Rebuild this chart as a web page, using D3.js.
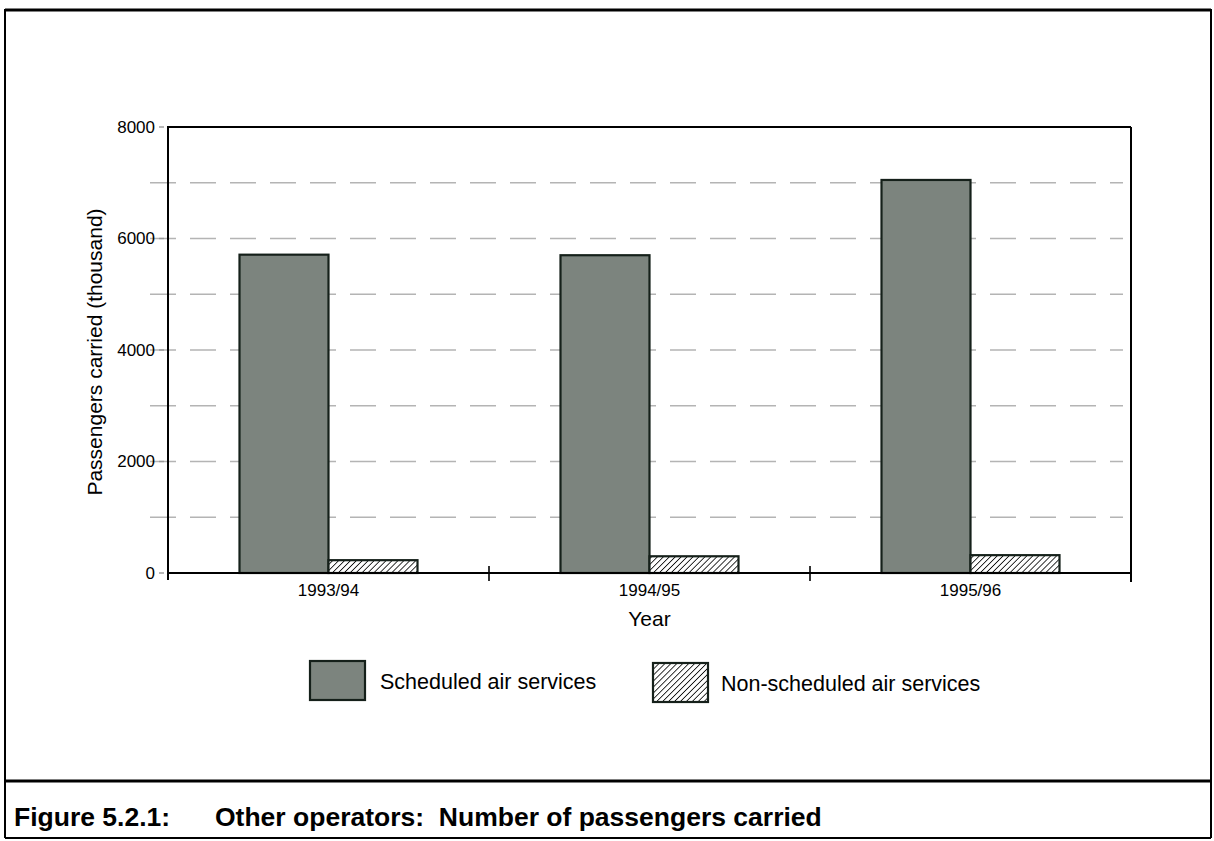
<!DOCTYPE html>
<html>
<head>
<meta charset="utf-8">
<script src="https://cdn.jsdelivr.net/npm/d3@7"></script>
<style>
  body { margin: 0; background: #fff; }
  svg { display: block; font-family: "Liberation Sans", Arial, Helvetica, sans-serif; }
</style>
</head>
<body>
<svg id="chart" width="1214" height="841"></svg>
<script>
// Data
var years = ["1993/94", "1994/95", "1995/96"];
var seriesNames = ["Scheduled air services", "Non-scheduled air services"];
var scheduled = [5710, 5700, 7050];
var nonScheduled = [230, 300, 320];
var yTicks = [0, 2000, 4000, 6000, 8000];
var gridValues = [1000, 2000, 3000, 4000, 5000, 6000, 7000];

var svg = d3.select("#chart");

var margin = { left: 168, right: 1131, top: 127, bottom: 573 };

// hatch pattern for the non-scheduled bars
var defs = svg.append("defs");
var hatch = defs.append("pattern")
    .attr("id", "hatch")
    .attr("patternUnits", "userSpaceOnUse")
    .attr("width", 4.2)
    .attr("height", 4.2)
    .attr("patternTransform", "rotate(45)");
hatch.append("rect").attr("width", 4.2).attr("height", 4.2).attr("fill", "#fff");
hatch.append("line")
    .attr("x1", 0).attr("y1", 0).attr("x2", 0).attr("y2", 4.2)
    .attr("stroke", "#111").attr("stroke-width", 1.7);

var fills = ["#7c847e", "url(#hatch)"];

// outer frame + caption box
var frame = svg.append("g").attr("fill", "none").attr("stroke", "#000");
frame.append("line").attr("x1", 5).attr("y1", 10).attr("x2", 1211).attr("y2", 10).attr("stroke-width", 3);
frame.append("line").attr("x1", 5).attr("y1", 9).attr("x2", 5).attr("y2", 838).attr("stroke-width", 2);
frame.append("line").attr("x1", 1211).attr("y1", 9).attr("x2", 1211).attr("y2", 838).attr("stroke-width", 2);
frame.append("line").attr("x1", 5).attr("y1", 781).attr("x2", 1211).attr("y2", 781).attr("stroke-width", 3);
frame.append("line").attr("x1", 5).attr("y1", 838).attr("x2", 1211).attr("y2", 838).attr("stroke-width", 2);

svg.append("text")
    .attr("x", 14).attr("y", 826)
    .attr("font-size", 26.5).attr("font-weight", "bold")
    .text("Figure 5.2.1:");
svg.append("text")
    .attr("x", 215).attr("y", 826)
    .attr("font-size", 26.5).attr("font-weight", "bold")
    .attr("xml:space", "preserve")
    .text("Other operators:  Number of passengers carried");

// scales
var x = d3.scaleBand()
    .domain(years)
    .range([margin.left, margin.right])
    .padding(0);

var bw = x.bandwidth();
var x1 = d3.scaleBand()
    .domain(seriesNames)
    .range([bw / 2 - 89, bw / 2 + 89]);

var y = d3.scaleLinear()
    .domain([0, 8000])
    .range([margin.bottom, margin.top]);

// dashed grid lines
svg.append("g").selectAll("line")
    .data(gridValues)
    .enter().append("line")
    .attr("x1", margin.left - 18)
    .attr("x2", margin.right - 8)
    .attr("y1", function (d) { return y(d); })
    .attr("y2", function (d) { return y(d); })
    .attr("stroke", "#b4b4b4")
    .attr("stroke-width", 1.3)
    .attr("stroke-dasharray", "26,14");

// small grey ticks left of the axis
svg.append("g").selectAll("line")
    .data(yTicks)
    .enter().append("line")
    .attr("x1", margin.left - 9)
    .attr("x2", margin.left - 4)
    .attr("y1", function (d) { return y(d); })
    .attr("y2", function (d) { return y(d); })
    .attr("stroke", "#999")
    .attr("stroke-width", 1.4);

// bars
var rows = years.map(function (yr, i) {
    return { year: yr, values: [scheduled[i], nonScheduled[i]] };
});

var groups = svg.append("g").selectAll("g")
    .data(rows)
    .enter().append("g")
    .attr("transform", function (d) { return "translate(" + x(d.year) + ",0)"; });

groups.selectAll("rect")
    .data(function (d) {
        return seriesNames.map(function (s, j) { return { key: s, value: d.values[j], idx: j }; });
    })
    .enter().append("rect")
    .attr("x", function (d) { return x1(d.key); })
    .attr("width", x1.bandwidth())
    .attr("y", function (d) { return y(d.value); })
    .attr("height", function (d) { return y(0) - y(d.value); })
    .attr("fill", function (d) { return fills[d.idx]; })
    .attr("stroke", "#15201a")
    .attr("stroke-width", 2.2);

// plot box: top and right edges
svg.append("line")
    .attr("x1", margin.left).attr("x2", margin.right)
    .attr("y1", margin.top).attr("y2", margin.top)
    .attr("stroke", "#000").attr("stroke-width", 2);
svg.append("line")
    .attr("x1", margin.right).attr("x2", margin.right)
    .attr("y1", margin.top).attr("y2", margin.bottom + 9)
    .attr("stroke", "#000").attr("stroke-width", 2);

// y axis
var yAxis = svg.append("g")
    .attr("transform", "translate(" + margin.left + ",0)")
    .call(d3.axisLeft(y).tickValues(yTicks).tickSize(0).tickPadding(13).tickFormat(d3.format("d")));
yAxis.select(".domain").remove();
yAxis.selectAll("text").attr("font-size", 17).attr("fill", "#000");
yAxis.attr("font-family", null);

svg.append("line")
    .attr("x1", margin.left).attr("x2", margin.left)
    .attr("y1", margin.top - 1).attr("y2", margin.bottom + 7)
    .attr("stroke", "#000").attr("stroke-width", 2);

// x axis: baseline with ticks between categories
var xAxis = svg.append("g")
    .attr("transform", "translate(0," + margin.bottom + ")")
    .call(d3.axisBottom(x).tickSize(0).tickPadding(11));
xAxis.select(".domain").remove();
xAxis.selectAll("text").attr("font-size", 17).attr("fill", "#000");
xAxis.attr("font-family", null);

svg.append("line")
    .attr("x1", margin.left).attr("x2", margin.right)
    .attr("y1", margin.bottom).attr("y2", margin.bottom)
    .attr("stroke", "#000").attr("stroke-width", 2);

svg.append("g").selectAll("line")
    .data(years.slice(1))
    .enter().append("line")
    .attr("x1", function (d) { return x(d); })
    .attr("x2", function (d) { return x(d); })
    .attr("y1", margin.bottom - 7)
    .attr("y2", margin.bottom + 8)
    .attr("stroke", "#000")
    .attr("stroke-width", 1.6);

// axis titles
svg.append("text")
    .attr("transform", "translate(102," + ((margin.top + margin.bottom) / 2 + 2) + ") rotate(-90)")
    .attr("text-anchor", "middle")
    .attr("font-size", 21)
    .text("Passengers carried (thousand)");

svg.append("text")
    .attr("x", (margin.left + margin.right) / 2)
    .attr("y", 626)
    .attr("text-anchor", "middle")
    .attr("font-size", 21)
    .text("Year");

// legend
var legendX = [310, 653];
var legend = svg.append("g").selectAll("g")
    .data(seriesNames)
    .enter().append("g")
    .attr("transform", function (d, i) { return "translate(" + legendX[i] + "," + (661 + i * 2) + ")"; });

legend.append("rect")
    .attr("width", 55)
    .attr("height", 39)
    .attr("fill", function (d, i) { return fills[i]; })
    .attr("stroke", "#15201a")
    .attr("stroke-width", 2.2);

legend.append("text")
    .attr("x", function (d, i) { return i === 0 ? 70 : 68; })
    .attr("y", 28)
    .attr("font-size", 21.5)
    .text(function (d) { return d; });
</script>
</body>
</html>
